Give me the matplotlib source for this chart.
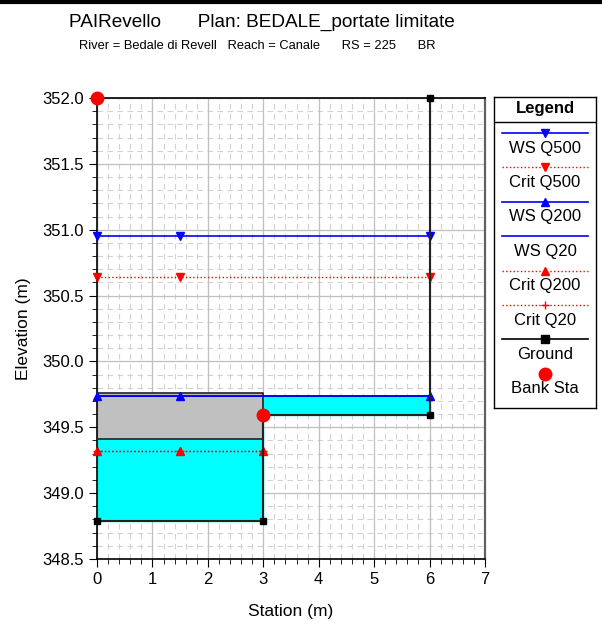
#!/usr/bin/env python
# coding: utf-8

# HEC-RAS cross section plot (bridge section) - recreated with matplotlib

import numpy as np
import matplotlib
matplotlib.use("Agg")
import matplotlib.pyplot as plt
from matplotlib.lines import Line2D

plt.rcParams['font.family'] = ['Liberation Sans', 'DejaVu Sans']

# ---- data ----
ground_x = [0, 0, 3, 3, 6, 6]
ground_y = [352.0, 348.79, 348.79, 349.59, 349.59, 352.0]
bank_x = [0, 3]
bank_y = [352.0, 349.59]

deck_x = [0, 3]
deck_low = 349.41
deck_high = 349.76

ws_q500 = 350.95
crit_q500 = 350.64
ws_q200 = 349.74
ws_q20 = 349.74
crit_q200 = 349.32
crit_q20 = 349.32

ws_x = [0, 1.5, 6]
crit_x = [0, 1.5, 3]

legend_names = ["WS Q500", "Crit Q500", "WS Q200", "WS Q20",
                "Crit Q200", "Crit Q20", "Ground", "Bank Sta"]

title = "PAIRevello       Plan: BEDALE_portate limitate"
subtitle = "River = Bedale di Revell   Reach = Canale      RS = 225      BR"

# ---- figure ----
fig = plt.figure(figsize=(6.02, 6.26), dpi=100)
ax = fig.add_axes([97 / 602, 1 - 559 / 626, 388 / 602, 461 / 626])

ax.set_xlim(0, 7)
ax.set_ylim(348.5, 352.0)

# grid
for x in np.arange(0, 7.01, 0.2):
    ax.axvline(x, color='#d2d2d2', lw=0.8, ls=(0, (5, 4)), zorder=0)
for y in np.arange(348.5, 352.01, 0.1):
    ax.axhline(y, color='#d2d2d2', lw=0.8, ls=(0, (5, 4)), zorder=0)
for x in np.arange(0, 7.01, 1):
    ax.axvline(x, color='#c0c0c0', lw=0.9, zorder=0.5)
for y in np.arange(348.5, 352.01, 0.5):
    ax.axhline(y, color='#c0c0c0', lw=0.9, zorder=0.5)

# water fill
ax.fill_between([0, 3], [ground_y[1]] * 2, [ws_q200] * 2, color='#00ffff', zorder=1)
ax.fill_between([3, 6], [ground_y[3]] * 2, [ws_q200] * 2, color='#00ffff', zorder=1)

# bridge deck
ax.fill_between(deck_x, [deck_low] * 2, [deck_high] * 2, color='#c0c0c0', lw=0, zorder=2)
ax.plot([0, 3, 3, 0, 0], [deck_low, deck_low, deck_high, deck_high, deck_low],
        color='#222222', lw=1.2, zorder=2.5)

# water surfaces
mk = dict(ms=6, zorder=3, clip_on=False)
ax.plot([0, 6], [ws_q500] * 2, color='blue', lw=1.2, zorder=3)
ax.plot(ws_x, [ws_q500] * 3, 'v', color='blue', **mk)
ax.plot([0, 6], [crit_q500] * 2, color='red', lw=1.0, ls=':', zorder=3)
ax.plot(ws_x, [crit_q500] * 3, 'v', color='red', **mk)
ax.plot([0, 6], [ws_q20] * 2, color='blue', lw=1.2, zorder=3)
ax.plot([0, 6], [ws_q200] * 2, color='blue', lw=1.2, zorder=3)
ax.plot(ws_x, [ws_q200] * 3, '^', color='blue', **mk)
ax.plot([0, 3], [crit_q20] * 2, color='red', lw=1.0, ls=':', zorder=3)
ax.plot(crit_x, [crit_q20] * 3, '+', color='red', **mk)
ax.plot([0, 3], [crit_q200] * 2, color='red', lw=1.0, ls=':', zorder=3)
ax.plot(crit_x, [crit_q200] * 3, '^', color='red', **mk)

# ground
ax.plot(ground_x, ground_y, color='#222222', lw=1.5, zorder=4)
ax.plot(ground_x, ground_y, 's', color='black', ms=5, zorder=4, clip_on=False)
ax.plot(bank_x, bank_y, 'o', color='red', ms=9, zorder=5, clip_on=False)

# axes style
ax.set_xticks(np.arange(0, 8, 1))
ax.set_xticks(np.arange(0, 7.01, 0.2), minor=True)
ax.set_yticks(np.arange(348.5, 352.01, 0.5))
ax.set_yticks(np.arange(348.5, 352.01, 0.1), minor=True)
ax.yaxis.set_major_formatter(plt.FormatStrFormatter('%.1f'))
ax.tick_params(axis='both', which='major', labelsize=12, direction='out', length=6)
ax.tick_params(axis='both', which='minor', direction='out', length=3.5)
for sp in ax.spines.values():
    sp.set_linewidth(1.2)
ax.spines['right'].set_color('#606060')
ax.spines['right'].set_linewidth(1.6)
ax.set_xlabel("Station (m)", fontsize=12.5, labelpad=12)
ax.set_ylabel("Elevation (m)", fontsize=12.5, labelpad=8)

# titles
fig.text(262 / 602, 1 - 22 / 626, title, ha='center', va='center', fontsize=13.7)
fig.text(257 / 602, 1 - 46 / 626, subtitle, ha='center', va='center', fontsize=9.3)
fig.add_artist(Line2D([0, 1], [1 - 2 / 626] * 2, color='black', lw=3))

# legend (manual box)
lax = fig.add_axes([494 / 602, 1 - 408 / 626, 102 / 602, 311 / 626])
lax.set_xlim(0, 102)
lax.set_ylim(311, 0)
lax.set_xticks([])
lax.set_yticks([])
for sp in lax.spines.values():
    sp.set_linewidth(1.0)
lax.text(51, 11, "Legend", ha='center', va='center', fontsize=12, fontweight='bold')
lax.axhline(25, color='black', lw=1.0)

styles = [
    dict(color='blue', ls='-', marker='v'),
    dict(color='red', ls=':', marker='v'),
    dict(color='blue', ls='-', marker='^'),
    dict(color='blue', ls='-', marker=None),
    dict(color='red', ls=':', marker='^'),
    dict(color='red', ls=':', marker='+'),
    dict(color='black', ls='-', marker='s'),
    dict(color='red', ls='none', marker='o'),
]
for i, (name, st) in enumerate(zip(legend_names, styles)):
    yl = 36 + i * 34.4
    if st['ls'] != 'none':
        lax.plot([8, 94], [yl, yl], color=st['color'], ls=st['ls'],
                 lw=1.2 if st['ls'] == '-' else 1.0)
    if st['marker']:
        ms = 9 if st['marker'] == 'o' else 6
        lax.plot([51], [yl], st['marker'], color=st['color'], ms=ms)
    lax.text(51, yl + 15, name, ha='center', va='center', fontsize=12)

fig.savefig("out.png", dpi=100)
